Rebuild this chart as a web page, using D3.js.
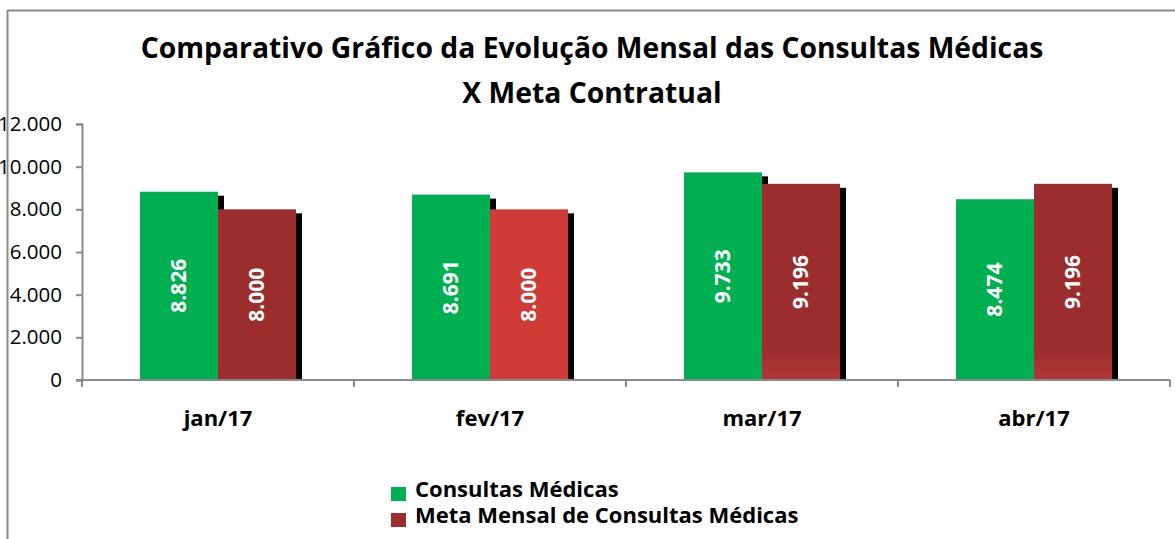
<!DOCTYPE html>
<html>
<head>
<meta charset="utf-8">
<script src="https://cdn.jsdelivr.net/npm/d3@7"></script>
<style>
  body { margin: 0; background: #fff; }
  svg { display: block; font-family: "Open Sans", sans-serif; }
</style>
</head>
<body>
<div id="chart"></div>
<script>
const months = ["jan/17", "fev/17", "mar/17", "abr/17"];
const consultas = [8826, 8691, 9733, 8474];
const metas = [8000, 8000, 9196, 9196];
const yTicks = [0, 2000, 4000, 6000, 8000, 10000, 12000];
const seriesNames = ["Consultas Médicas", "Meta Mensal de Consultas Médicas"];

const width = 1175, height = 539;
const svg = d3.select("#chart").append("svg")
    .attr("width", width)
    .attr("height", height);

const defs = svg.append("defs");
const grad = defs.append("linearGradient")
    .attr("id", "maroonFade")
    .attr("x1", 0).attr("y1", 0).attr("x2", 0).attr("y2", 1);
grad.append("stop").attr("offset", "0.82").attr("stop-color", "#9B2D2D");
grad.append("stop").attr("offset", "1").attr("stop-color", "#B23535");

// cores das barras de meta por mês
const metaFill = {"jan/17": "#9B2D2D", "fev/17": "#D03B38", "mar/17": "url(#maroonFade)", "abr/17": "url(#maroonFade)"};

const x = d3.scaleBand().domain(months).range([82, 1170]);
const y = d3.scaleLinear().domain([0, 12000]).range([380, 124]);
const barW = 78;
const fmt = v => d3.format(",")(v).replace(/,/g, ".");

// título
const title = svg.append("g")
    .attr("text-anchor", "middle")
    .style("font-size", "28.3px")
    .style("font-weight", "bold")
    .attr("fill", "#000");
title.append("text").attr("x", 592).attr("y", 58).text("Comparativo Gráfico da Evolução Mensal das Consultas Médicas");
title.append("text").attr("x", 592).attr("y", 103).text("X Meta Contratual");

// eixo y
const yAxis = svg.append("g")
    .attr("transform", "translate(82,0)")
    .call(d3.axisLeft(y).tickValues(yTicks).tickSize(6).tickPadding(14).tickFormat(fmt));
yAxis.select(".domain").attr("stroke", "#8a8a8a").attr("stroke-width", 2);
yAxis.selectAll(".tick line").attr("stroke", "#8a8a8a").attr("stroke-width", 2);
yAxis.selectAll(".tick text")
    .style("font-size", "20.5px")
    .attr("fill", "#000")
    .attr("font-family", "'Open Sans', sans-serif");

// moldura (por cima dos rótulos do eixo, como no original)
svg.append("path")
    .attr("d", "M7.5,539 V10.5 H1175")
    .attr("fill", "none")
    .attr("stroke", "#8a8a8a")
    .attr("stroke-width", 2);

const data = months.map((m, i) => ({month: m, c: consultas[i], meta: metas[i]}));

// sombras
const shadows = svg.append("g").attr("fill", "#000");
data.forEach(d => {
    const x0 = x(d.month) + x.bandwidth() / 2;
    shadows.append("rect")
        .attr("x", x0 - barW + 6).attr("y", y(d.c) + 4)
        .attr("width", barW).attr("height", 380 - y(d.c) - 4);
    shadows.append("rect")
        .attr("x", x0 + 6).attr("y", y(d.meta) + 4)
        .attr("width", barW).attr("height", 380 - y(d.meta) - 4);
});

// barras
const bars = svg.append("g");
bars.selectAll(".bc").data(data).enter().append("rect")
    .attr("x", d => x(d.month) + x.bandwidth() / 2 - barW)
    .attr("y", d => y(d.c))
    .attr("width", barW)
    .attr("height", d => y(0) - y(d.c))
    .attr("fill", "#00AF50");
bars.selectAll(".bm").data(data).enter().append("rect")
    .attr("x", d => x(d.month) + x.bandwidth() / 2)
    .attr("y", d => y(d.meta))
    .attr("width", barW)
    .attr("height", d => y(0) - y(d.meta))
    .attr("fill", d => metaFill[d.month]);

// eixo x
const xAxis = svg.append("g")
    .attr("transform", "translate(0,380)")
    .call(d3.axisBottom(x).tickSize(0).tickPadding(30));
xAxis.select(".domain").remove();
xAxis.append("line")
    .attr("x1", 76).attr("x2", 1170).attr("y1", 0).attr("y2", 0)
    .attr("stroke", "#8a8a8a").attr("stroke-width", 2);
xAxis.selectAll(".sep").data(months.concat(["end"])).enter().append("line")
    .attr("x1", (d, i) => i < months.length ? x(d) : x.range()[1])
    .attr("x2", (d, i) => i < months.length ? x(d) : x.range()[1])
    .attr("y1", 0).attr("y2", 7)
    .attr("stroke", "#8a8a8a").attr("stroke-width", 2);
xAxis.selectAll(".tick text")
    .style("font-size", "22px")
    .style("font-weight", "bold")
    .attr("fill", "#000")
    .attr("font-family", "'Open Sans', sans-serif");

// rótulos de valores
const labels = svg.append("g")
    .attr("fill", "#fff")
    .style("font-size", "21px")
    .style("font-weight", "bold")
    .attr("text-anchor", "middle");
data.forEach(d => {
    const cx = x(d.month) + x.bandwidth() / 2;
    [[cx - barW / 2, d.c], [cx + barW / 2, d.meta]].forEach(([lx, v]) => {
        const ly = (y(v) + y(0)) / 2;
        labels.append("text")
            .attr("transform", `translate(${lx + 7},${ly}) rotate(-90)`)
            .text(fmt(v));
    });
});

// legenda
const legendColors = ["#00AF50", "#9B2D2D"];
const legend = svg.append("g").attr("transform", "translate(391,487)");
seriesNames.forEach((name, i) => {
    const g = legend.append("g").attr("transform", `translate(0,${i * 26})`);
    g.append("rect").attr("width", 15).attr("height", 14).attr("fill", legendColors[i]);
    g.append("text")
        .attr("x", 24).attr("y", 10)
        .style("font-size", "22px")
        .style("font-weight", "bold")
        .text(name);
});
</script>
</body>
</html>
